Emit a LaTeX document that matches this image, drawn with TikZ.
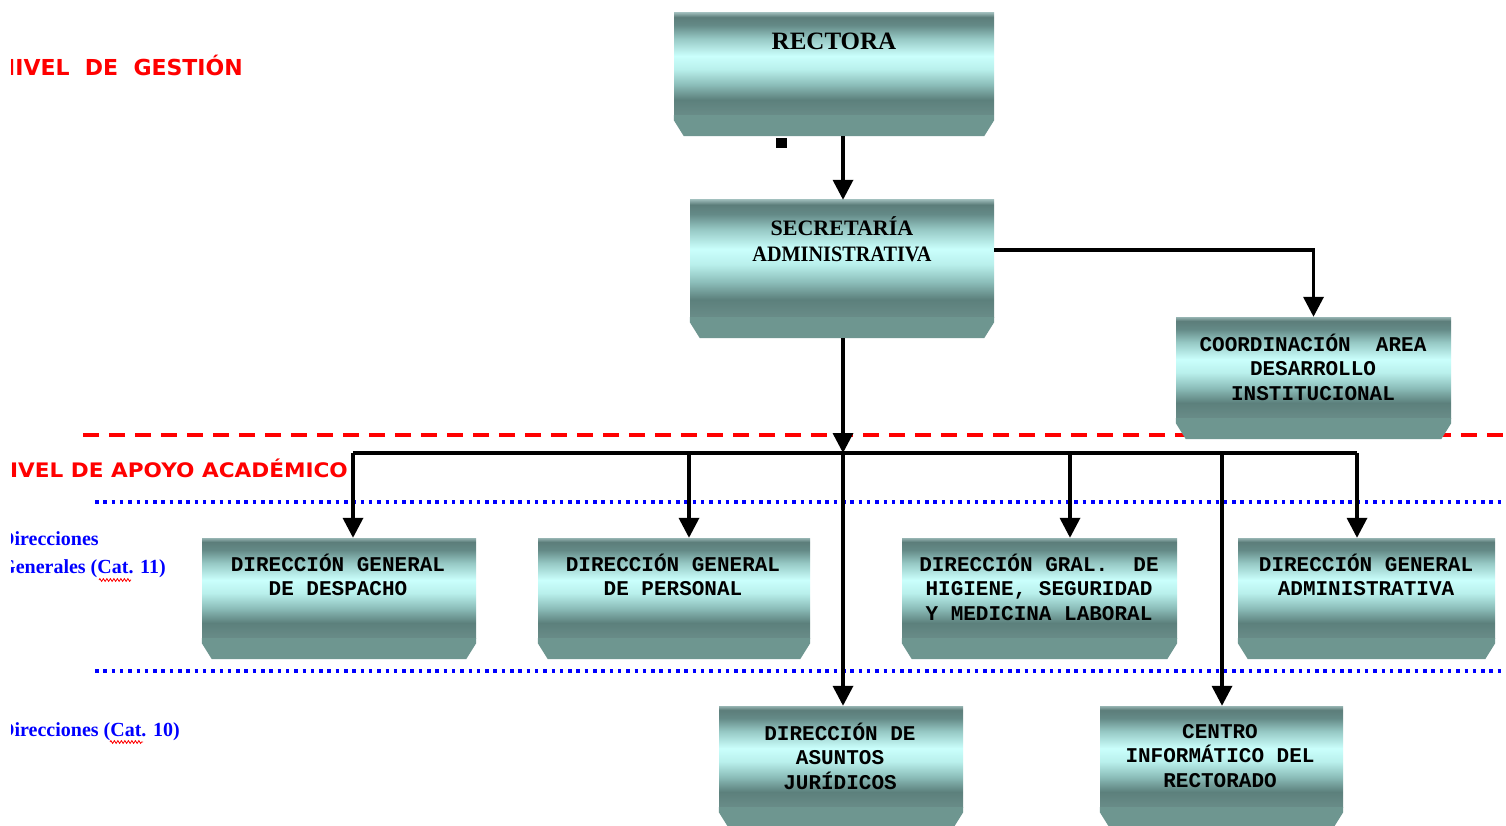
\documentclass[tikz,border=0pt]{standalone}
\usepackage{fontspec}
\setmainfont{Liberation Serif}
\newfontfamily\monofam{Liberation Mono}
\newfontfamily\sansfam{DejaVu Sans}
\usetikzlibrary{arrows.meta,calc,decorations.pathmorphing}

% cylinder-like banding of the boxes, bottom to top
\definecolor{cyA}{RGB}{105,140,136}
\definecolor{cyB}{RGB}{92,128,124}
\definecolor{cyC}{RGB}{140,190,186}
\definecolor{cyD}{RGB}{185,240,236}
\definecolor{cyE}{RGB}{202,255,252}
\definecolor{cyF}{RGB}{150,200,196}
\definecolor{cyG}{RGB}{100,138,135}
\definecolor{cyH}{RGB}{92,125,122}
\definecolor{cyI}{RGB}{150,180,178}
\definecolor{bevelc}{RGB}{110,150,144}
\pgfdeclareverticalshading{cyl}{100bp}{%
  color(0bp)=(cyA); color(25bp)=(cyA); color(32.5bp)=(cyB);
  color(40bp)=(cyC); color(47.5bp)=(cyD); color(54bp)=(cyE);
  color(62.5bp)=(cyF); color(69bp)=(cyG); color(73bp)=(cyH);
  color(75bp)=(cyI); color(100bp)=(cyI)}

% chamfered band under a box, plus a coordinate at its lower edge
\newcommand\boxbevel[1]{%
  \fill[bevelc] (#1.south west) -- ($(#1.south west)+(0,5)$)
    -- ($(#1.south west)+(10,21)$) -- ($(#1.south east)+(-10,21)$)
    -- ($(#1.south east)+(0,5)$) -- (#1.south east) -- cycle;
  \coordinate (#1-b) at ($(#1.south)+(0,21)$);
}

\tikzset{
  box/.style={shade, shading=cyl, inner sep=0, draw=none},
  boxtxt/.style={font=\monofam\bfseries\fontsize{21}{24.5}\selectfont, align=center, inner sep=0},
  toptxt/.style={font=\bfseries\fontsize{22}{26}\selectfont, align=center, inner sep=0},
  arr/.style={line width=3.5pt, -{Triangle[length=20pt,width=20pt]}},
  conn/.style={line width=3.5pt},
  reddash/.style={red, line width=4pt, dash pattern=on 16pt off 10pt},
  bluedot/.style={blue, line width=3.5pt, dash pattern=on 3.5pt off 4.8pt},
  redlbl/.style={font=\sansfam\bfseries\fontsize{20}{24}\selectfont, text=red, inner sep=0},
  bluelbl/.style={font=\bfseries\fontsize{20}{28}\selectfont, text=blue, inner sep=0, align=left},
  squig/.style={red, line width=0.8pt, decorate, decoration={zigzag, amplitude=1.4pt, segment length=3.5pt}},
}

\begin{document}
\begin{tikzpicture}[x=1pt,y=-1pt]
\useasboundingbox (0,0) rectangle (1506,826);
\fill[white] (0,0) rectangle (1506,826);

% level separators
\draw[reddash] (83,435) -- (1506,435);
\draw[bluedot] (95,502) -- (1506,502);
\draw[bluedot] (95,671) -- (1506,671);

% level captions
\begin{scope}
  \clip (11.5,0) rectangle (420,826);
  \node[redlbl, font=\sansfam\bfseries\fontsize{22}{26}\selectfont, anchor=base east] (lvl1) at (243,76) {NIVEL~~DE~~GESTIÓN};
  \node[redlbl, anchor=base east] (lvl2) at (348,477) {\scalebox{1.08}[1]{NIVEL DE APOYO ACADÉMICO}};
  \node[bluelbl, anchor=north west] (dg1) at (0,531) {Direcciones};
  \node[bluelbl, anchor=north west] (dg2) at (0,559) {Generales (Cat. 11)};
  \node[bluelbl, anchor=north west] (dir) at (0,722) {Direcciones (Cat. 10)};
\end{scope}
\draw[squig] (99,580) -- (131,580);
\draw[squig] (110,742) -- (143,742);

% boxes
\node[box, minimum width=320, minimum height=102] (rect) at (834,64) {};
\node[box, minimum width=304, minimum height=117] (sec) at (842,258.5) {};
\node[box, minimum width=275, minimum height=101] (coord) at (1313.5,367.5) {};
\node[box, minimum width=274, minimum height=100] (desp) at (339,588) {};
\node[box, minimum width=272, minimum height=100] (pers) at (674,588) {};
\node[box, minimum width=275, minimum height=100] (hig) at (1039.5,588) {};
\node[box, minimum width=257, minimum height=100] (adm) at (1366.5,588) {};
\node[box, minimum width=244, minimum height=101] (jur) at (841,756.5) {};
\node[box, minimum width=243, minimum height=101] (cent) at (1221.5,756.5) {};
\foreach \b in {rect,sec,coord,desp,pers,hig,adm,jur,cent} {\boxbevel{\b}}

% box texts
\node[toptxt, font=\bfseries\fontsize{25}{28}\selectfont] (rect-t) at (834,41) {RECTORA};
\node[toptxt] (sec-t) at (842,239) {SECRETARÍA\\\scalebox{0.92}[1]{ADMINISTRATIVA}};
\node[boxtxt] (coord-t) at (1313,367) {COORDINACIÓN~~AREA\\DESARROLLO\\INSTITUCIONAL};
\node[boxtxt] (desp-t) at (338,575) {DIRECCIÓN GENERAL\\DE DESPACHO};
\node[boxtxt] (pers-t) at (673,575) {DIRECCIÓN GENERAL\\DE PERSONAL};
\node[boxtxt] (hig-t) at (1039,587) {DIRECCIÓN GRAL.~~DE\\HIGIENE, SEGURIDAD\\Y MEDICINA LABORAL};
\node[boxtxt] (adm-t) at (1366,575) {DIRECCIÓN GENERAL\\ADMINISTRATIVA};
\node[boxtxt] (jur-t) at (840,756) {DIRECCIÓN DE\\ASUNTOS\\JURÍDICOS};
\node[boxtxt] (cent-t) at (1220,756) {CENTRO\\INFORMÁTICO DEL\\RECTORADO};

% small marker under the top box
\node[fill=black, minimum width=11, minimum height=10, inner sep=0] (mark) at (781,143) {};

% connectors
\coordinate (xa) at (843,0);
\coordinate (y250) at (0,250);
\coordinate (bus) at (843,453);
\coordinate (bD) at (353,453);
\coordinate (bP) at (689,453);
\coordinate (bH) at (1070,453);
\coordinate (bC) at (1222,453);
\coordinate (bA) at (1357,453);

\draw[arr] (rect-b -| xa) -- (sec.north -| xa);
\draw[arr] (sec.east |- y250) -| (coord.north);
\draw[arr] (sec-b -| xa) -- (bus);
\draw[conn] (bD) -- (bA);
\draw[arr] (bD) -- (bD |- desp.north);
\draw[arr] (bP) -- (bP |- pers.north);
\draw[arr] (bH) -- (bH |- hig.north);
\draw[arr] (bA) -- (bA |- adm.north);
\draw[arr] (bus) -- (bus |- jur.north);
\draw[arr] (bC) -- (bC |- cent.north);
\end{tikzpicture}
\end{document}
